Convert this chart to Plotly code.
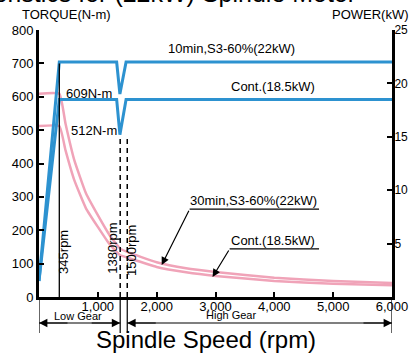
import plotly.graph_objects as go

# ---------------- data ----------------
# Power curves (right axis, kW) vs spindle speed (rpm)
speed_power = [0, 345, 1320, 1375, 1480, 6000]
power_10min = [1.5, 22, 22, 19.0, 22, 22]
power_cont = [1.5, 18.5, 18.5, 15.2, 18.5, 18.5]

# Torque curves (left axis, N-m)
speed_torque = [0, 345, 450, 600, 800, 1000, 1200, 1380, 1500, 2000, 2500, 3000, 4000, 5000, 6000]
torque_30min = [609, 609, 520, 410, 310, 245, 185, 145, 135, 104, 86, 75, 58, 48, 42]
torque_cont = [512, 512, 440, 350, 265, 210, 158, 125, 118, 90, 74, 63, 48, 40, 35]

x_ticks = [1000, 2000, 3000, 4000, 5000, 6000]
y_ticks = [0, 100, 200, 300, 400, 500, 600, 700, 800]
y2_ticks = [5, 10, 15, 20, 25]
gear_change = [345, 1380, 1500]

FONT = "Liberation Sans, Arial, sans-serif"
BLUE = "#2d92d0"
PINK = "#f0a3b8"

# plot area in pixels
L, R, T, B = 39, 392, 30, 297
W, H = 410, 353


def px(xp):
    return (xp - L) / (R - L)


def py(yp):
    return (B - yp) / (B - T)


fig = go.Figure()

fig.add_trace(go.Scatter(x=speed_torque, y=torque_30min, mode="lines",
                         line=dict(color=PINK, width=2.5, shape="spline", smoothing=0.4),
                         showlegend=False, hoverinfo="skip"))
fig.add_trace(go.Scatter(x=speed_torque, y=torque_cont, mode="lines",
                         line=dict(color=PINK, width=2.5, shape="spline", smoothing=0.4),
                         showlegend=False, hoverinfo="skip"))
fig.add_trace(go.Scatter(x=speed_power, y=power_10min, mode="lines", yaxis="y2",
                         line=dict(color=BLUE, width=3), showlegend=False, hoverinfo="skip"))
fig.add_trace(go.Scatter(x=speed_power, y=power_cont, mode="lines", yaxis="y2",
                         line=dict(color=BLUE, width=3), showlegend=False, hoverinfo="skip"))

shapes = []
# gear-change vertical lines
shapes.append(dict(type="line", xref="x", yref="y", x0=gear_change[0], x1=gear_change[0],
                   y0=0, y1=700, line=dict(color="black", width=1.3)))
for g in gear_change[1:]:
    shapes.append(dict(type="line", xref="x", yref="y", x0=g, x1=g, y0=0, y1=485,
                       line=dict(color="black", width=1.5, dash="5px,4px")))
# underlines for leader labels
shapes.append(dict(type="line", xref="x", yref="y", x0=2560, x1=4760, y0=263, y1=263,
                   line=dict(color="black", width=1.2)))
shapes.append(dict(type="line", xref="x", yref="y", x0=3240, x1=4760, y0=144, y1=144,
                   line=dict(color="black", width=1.2)))
# gear range bars below the axis
for xv in [0, 1380, 1500, 6000]:
    shapes.append(dict(type="line", xref="x", yref="paper", x0=xv, x1=xv,
                       y0=py(299), y1=py(333), line=dict(color="black", width=1.2)))
shapes.append(dict(type="line", xref="x", yref="paper", x0=0, x1=1380,
                   y0=py(323), y1=py(323), line=dict(color="black", width=1.2)))
shapes.append(dict(type="line", xref="x", yref="paper", x0=1500, x1=6000,
                   y0=py(323), y1=py(323), line=dict(color="black", width=1.2)))

ann = []


def txt(text, x, y, size=13, xref="x", yref="y", **kw):
    d = dict(text=text, x=x, y=y, xref=xref, yref=yref, showarrow=False,
             xanchor="center", yanchor="middle",
             font=dict(family=FONT, size=size, color="black"))
    d.update(kw)
    ann.append(d)


txt("10min,S3-60%(22kW)", 3270, 745)
txt("Cont.(18.5kW)", 3983, 632)
txt("609N-m", 847, 610)
txt("512N-m", 932, 500)
txt("345rpm", 424, 135, textangle=-90)
txt("1380rpm", 1254, 147, textangle=-90)
txt("1500rpm", 1576, 140, textangle=-90)
txt("30min,S3-60%(22kW)", 3644, 290)
txt("Cont.(18.5kW)", 3983, 168)
txt("Low Gear", 661, py(316), size=11, yref="paper")
txt("High Gear", 3271, py(315), size=11, yref="paper")
txt("Spindle Speed (rpm)", px(206), py(339), size=24, xref="paper", yref="paper")
txt("TORQUE(N-m)", px(66), py(14), size=13, xref="paper", yref="paper")
txt("POWER(kW)", px(330), py(14), size=13, xref="paper", yref="paper", xanchor="left")
txt("Output Characteristics for (22kW) Spindle Motor", px(358), py(9), size=25,
    xref="paper", yref="paper", xanchor="right", yanchor="bottom")

# leader arrows
ann.append(dict(x=2085, y=96, ax=2560, ay=263, xref="x", yref="y", axref="x", ayref="y",
                showarrow=True, arrowhead=2, arrowsize=1.3, arrowwidth=1.2, arrowcolor="black", text=""))
ann.append(dict(x=2950, y=60, ax=3240, ay=144, xref="x", yref="y", axref="x", ayref="y",
                showarrow=True, arrowhead=2, arrowsize=1.3, arrowwidth=1.2, arrowcolor="black", text=""))
# gear range arrowheads
for xh, dx in [(0, 30), (1380, -30), (1500, 30), (6000, -30)]:
    ann.append(dict(x=xh, y=py(323), xref="x", yref="paper", ax=dx, ay=0,
                    showarrow=True, arrowhead=2, arrowsize=1.4, arrowwidth=1.2,
                    arrowcolor="black", text="", standoff=0))

fig.update_layout(
    width=W, height=H,
    margin=dict(l=L, r=W - R, t=T, b=H - B, pad=0, autoexpand=False),
    paper_bgcolor="white", plot_bgcolor="white",
    font=dict(family=FONT, size=13, color="black"),
    shapes=shapes, annotations=ann,
    xaxis=dict(range=[0, 6000], tickvals=x_ticks, ticktext=[f"{v:,}" for v in x_ticks],
               ticks="inside", ticklen=5, tickwidth=2, tickcolor="black",
               showline=True, linewidth=3, linecolor="black", showgrid=False, zeroline=False,
               tickfont=dict(size=13), automargin=False, ticklabelstandoff=-5),
    yaxis=dict(range=[0, 800], tickvals=y_ticks, ticks="inside", ticklen=5, tickwidth=2,
               tickcolor="black", showline=True, linewidth=3, linecolor="black",
               showgrid=False, zeroline=False, tickfont=dict(size=13), automargin=False),
    yaxis2=dict(range=[0, 25], tickvals=y2_ticks, overlaying="y", side="right",
                ticks="inside", ticklen=5, tickwidth=2, tickcolor="black",
                showline=True, linewidth=3, linecolor="black", showgrid=False,
                zeroline=False, tickfont=dict(size=12), automargin=False,
                ticklabelstandoff=-3),
)

fig.write_html("out.html")
